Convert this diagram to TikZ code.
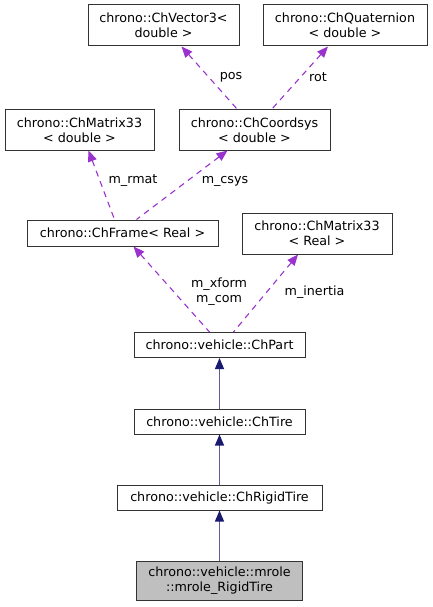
\documentclass[tikz,border=0pt]{standalone}
\usepackage{fontspec}
\setmainfont{DejaVu Sans}
\usetikzlibrary{arrows.meta}
\definecolor{edgepurple}{HTML}{9A32CD}
\definecolor{inhblue}{HTML}{191970}
\tikzset{
  cls/.style={draw=black!80, line width=1pt, fill=white, inner sep=0pt, align=center, anchor=center,
    font=\fontsize{12.7}{15}\selectfont},
  usage/.style={draw=edgepurple, line width=1.1pt, dash pattern=on 6pt off 5pt,
    {Triangle[length=11pt,width=9pt,fill=edgepurple]}-},
  inherit/.style={draw=inhblue!70, line width=1.1pt,
    {Triangle[length=11pt,width=9pt,fill=inhblue,color=inhblue]}-},
  lbl/.style={font=\fontsize{12.7}{15}\selectfont, align=center, inner sep=0pt}
}
\begin{document}
\begin{tikzpicture}[x=1pt,y=-1pt]
\useasboundingbox (0,0) rectangle (432,607);
\node[cls, minimum width=151, minimum height=41] (vec) at (163.5,25.5) {chrono::ChVector3<\\double >};
\node[cls, minimum width=164, minimum height=41] (quat) at (345,25.5) {chrono::ChQuaternion\\< double >};
\node[cls, minimum width=149, minimum height=40] (mat) at (79.5,130) {chrono::ChMatrix33\\< double >};
\node[cls, minimum width=151, minimum height=40] (coord) at (254.5,130) {chrono::ChCoordsys\\< double >};
\node[cls, minimum width=191, minimum height=26] (frame) at (122.5,233) {chrono::ChFrame< Real >};
\node[cls, minimum width=150, minimum height=41] (matR) at (317,233.5) {chrono::ChMatrix33\\< Real >};
\node[cls, minimum width=171, minimum height=25] (part) at (219.5,345) {chrono::vehicle::ChPart};
\node[cls, minimum width=171, minimum height=25] (tire) at (219.5,421.5) {chrono::vehicle::ChTire};
\node[cls, minimum width=205, minimum height=25] (rigid) at (219.5,497.5) {chrono::vehicle::ChRigidTire};
\node[cls, fill=black!25, minimum width=166, minimum height=39] (mrole) at (219.5,580.5) {chrono::vehicle::mrole\\::mrole\_RigidTire};

\draw[usage] ([xshift=18pt]vec.south) -- ([xshift=-17pt]coord.north);
\draw[usage] ([xshift=-17pt]quat.south) -- ([xshift=17pt]coord.north);
\draw[usage] ([xshift=9pt]mat.south) -- ([xshift=-8pt]frame.north);
\draw[usage] ([xshift=-27pt]coord.south) -- ([xshift=14pt]frame.north);
\draw[usage] ([xshift=11pt]frame.south) -- ([xshift=-10pt]part.north);
\draw[usage] ([xshift=-19pt]matR.south) -- ([xshift=14pt]part.north);
\draw[inherit] (part.south) -- (tire.north);
\draw[inherit] (tire.south) -- (rigid.north);
\draw[inherit] (rigid.south) -- (mrole.north);

\node[lbl] (lpos) at (231,77) {pos};
\node[lbl] (lrot) at (318,77) {rot};
\node[lbl] (lrmat) at (133,181) {m\_rmat};
\node[lbl] (lcsys) at (225,181) {m\_csys};
\node[lbl] (lxf) at (219,291.5) {m\_xform\\m\_com};
\node[lbl] (lin) at (314.5,292) {m\_inertia};
\end{tikzpicture}
\end{document}
